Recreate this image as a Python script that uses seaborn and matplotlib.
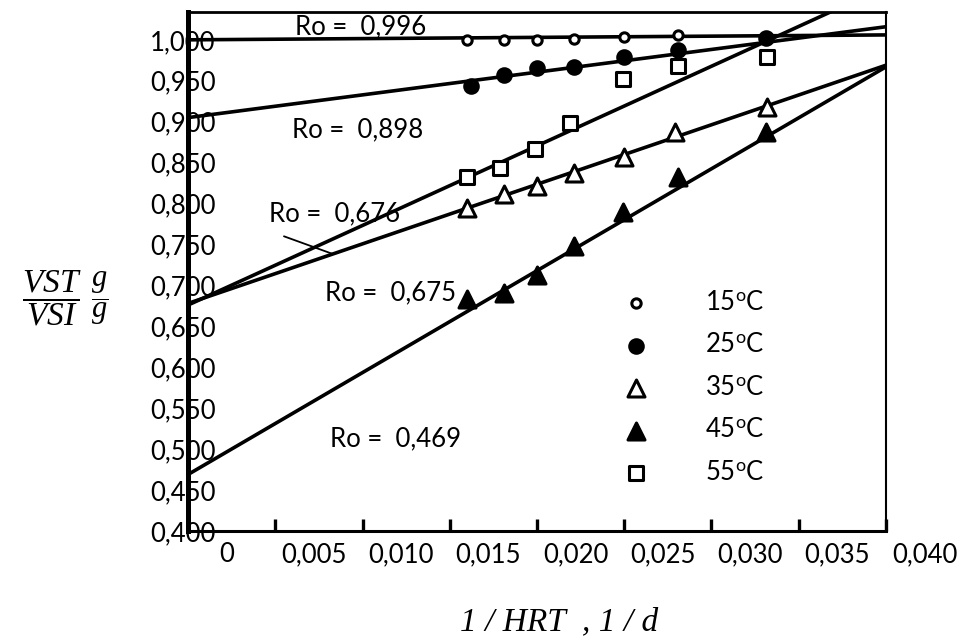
import numpy as np
import pandas as pd
import seaborn as sns
import matplotlib.pyplot as plt
from matplotlib.transforms import ScaledTranslation

### data  (x = 1/HRT [1/d], y = VST/VSI [g/g])

x_15 = [0.0160, 0.0181, 0.0200, 0.0221, 0.0250, 0.0281, 0.0331]
y_15 = [1.000, 1.000, 1.000, 1.001, 1.003, 1.006, 1.003]

x_25 = [0.0162, 0.0181, 0.0200, 0.0221, 0.0250, 0.0281, 0.0331]
y_25 = [0.943, 0.957, 0.965, 0.967, 0.979, 0.988, 1.002]

x_35 = [0.0160, 0.0181, 0.0200, 0.0221, 0.0250, 0.0279, 0.0332]
y_35 = [0.794, 0.812, 0.822, 0.837, 0.857, 0.887, 0.918]

x_45 = [0.0160, 0.0181, 0.0200, 0.0221, 0.0249, 0.0281, 0.0331]
y_45 = [0.683, 0.691, 0.713, 0.748, 0.790, 0.832, 0.887]

x_55 = [0.0160, 0.0179, 0.0199, 0.0219, 0.0249, 0.0281, 0.0332]
y_55 = [0.832, 0.844, 0.867, 0.898, 0.952, 0.968, 0.979]

temps = ["15", "25", "35", "45", "55"]

# straight lines as drawn: value at x = 0 and at x = 0.040
line_start = [1.000, 0.905, 0.678, 0.469, 0.676]
line_end = [1.006, 1.016, 0.969, 0.967, 1.065]

ro_text = ["0,996", "0,898", "0,676", "0,675", "0,469"]

xtick_vals = [0, 0.005, 0.010, 0.015, 0.020, 0.025, 0.030, 0.035, 0.040]
xtick_labels = ["0", "0,005", "0,010", "0,015", "0,020", "0,025", "0,030", "0,035", "0,040"]
ytick_vals = [0.40, 0.45, 0.50, 0.55, 0.60, 0.65, 0.70, 0.75, 0.80, 0.85, 0.90, 0.95, 1.00]
ytick_labels = ["0,400", "0,450", "0,500", "0,550", "0,600", "0,650", "0,700",
                "0,750", "0,800", "0,850", "0,900", "0,950", "1,000"]

series_x = [x_15, x_25, x_35, x_45, x_55]
series_y = [y_15, y_25, y_35, y_45, y_55]

### style

sns.set_theme(style="white", rc={"text.color": "black", "axes.labelcolor": "black",
                                 "xtick.color": "black", "ytick.color": "black",
                                 "axes.edgecolor": "black"})
plt.rcParams["font.family"] = ["Lato", "DejaVu Sans"]
plt.rcParams["mathtext.fontset"] = "custom"
plt.rcParams["mathtext.rm"] = "Lato"
plt.rcParams["mathtext.it"] = "Liberation Serif:italic"

fs = 18.5

fig = plt.figure(figsize=(9.62, 6.36), dpi=100)
ax = fig.add_axes([188/962, 1 - 531/636, 698/962, 519/636])

x_min, x_max = 0, 0.040

# fitted lines
for s, e in zip(line_start, line_end):
    sns.lineplot(x=[x_min, x_max], y=[s, e], color="black", linewidth=2.6, ax=ax)

# markers: open circle, filled circle, open triangle, filled triangle, open square
mk = {"15": ("o", 45, "white"),
      "25": ("o", 95, "black"),
      "35": ("^", 150, "white"),
      "45": ("^", 150, "black"),
      "55": ("s", 115, "white")}

for t, xs, ys in zip(temps, series_x, series_y):
    m, size, face = mk[t]
    sns.scatterplot(x=xs, y=ys, marker=m, s=size, facecolor=face,
                    edgecolor="black", linewidth=2.2, zorder=3,
                    label=t + r"$^{\mathrm{o}}$C", ax=ax)

# Ro labels
ax.text(0.0099, 1.016, "Ro =  " + ro_text[0], ha="center", va="center", fontsize=fs)
ax.text(0.0097, 0.890, "Ro =  " + ro_text[1], ha="center", va="center", fontsize=fs)
ax.text(0.0084, 0.787, "Ro =  " + ro_text[2], ha="center", va="center", fontsize=fs)
ax.text(0.0116, 0.691, "Ro =  " + ro_text[3], ha="center", va="center", fontsize=fs)
ax.text(0.0119, 0.513, "Ro =  " + ro_text[4], ha="center", va="center", fontsize=fs)

# leader line from the 0,676 label down to the 35 C line
xl = 0.0083
yl = line_start[2] + (line_end[2] - line_start[2]) * xl / x_max
ax.annotate("", xy=(xl, yl), xytext=(0.0055, 0.760),
            arrowprops=dict(arrowstyle="-", color="black", lw=1.3,
                            shrinkA=0, shrinkB=0))

ax.set_xlim(x_min, x_max)
ax.set_ylim(0.40, 1.034)

ax.set_xticks(xtick_vals, xtick_labels)
ax.set_yticks(ytick_vals, ytick_labels)
ax.tick_params(axis="x", bottom=True, direction="in", length=9, width=2.4, pad=8,
               labelsize=fs)
ax.tick_params(axis="y", left=True, length=0, pad=3.6, labelsize=fs)
for lab in ax.get_yticklabels():
    lab.set_horizontalalignment("center")
# the x labels sit half way between the tick marks in the original
shift = ScaledTranslation(0.385, 0, fig.dpi_scale_trans)
for lab in ax.get_xticklabels():
    lab.set_transform(lab.get_transform() + shift)

for side, lw in zip(["left", "bottom", "top", "right"], [3.6, 2.2, 2.0, 1.5]):
    ax.spines[side].set_linewidth(lw)
    ax.spines[side].set_color("black")

ax.set_xlabel("1 / HRT  , 1 / d", fontfamily="Liberation Serif", fontstyle="italic",
              fontsize=24, va="center")
ax.xaxis.set_label_coords(0.5315, -0.175)

# y label: VST/VSI in full size, g/g a bit smaller next to it
ax.set_ylabel(r"$\dfrac{VST}{VSI}$", rotation=0, fontsize=24, ha="right", va="center")
ax.yaxis.set_label_coords(-0.152, 0.449)
ax.text(-0.127, 0.449, r"$\dfrac{g}{g}$", transform=ax.transAxes, fontsize=22,
        ha="center", va="center")

ax.legend(loc="upper left", bbox_to_anchor=(623/962, 1 - 290/636),
          bbox_transform=fig.transFigure, frameon=False, fontsize=fs,
          handlelength=1.0, handletextpad=2.2, labelspacing=0.68,
          borderpad=0, borderaxespad=0)

fig.savefig("out.png", dpi=100)
